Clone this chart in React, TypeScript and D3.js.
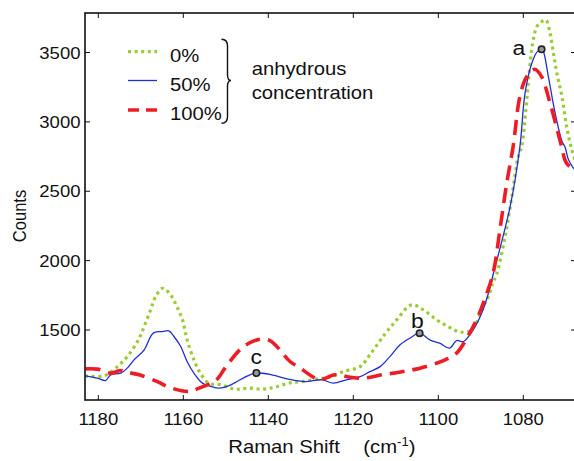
import React from "react";
import * as d3 from "d3";

// ---- data (Raman shift cm^-1, counts) ----
const xTicks = [1180, 1160, 1140, 1120, 1100, 1080];
const yTicks = [1500, 2000, 2500, 3000, 3500];

const series0X = [1183.1, 1178.6, 1175.5, 1173.2, 1170.8, 1169.2, 1167.7, 1166.5, 1164.8, 1163.0, 1161.5, 1160.2, 1159.1, 1157.5, 1156.0, 1154.0, 1151.0, 1147.9, 1144.7, 1141.2, 1138.4, 1135.3, 1132.1, 1128.2, 1125.5, 1122.4, 1118.4, 1116.1, 1113.0, 1109.8, 1106.3, 1103.5, 1100.4, 1097.7, 1095.3, 1092.9, 1091.3, 1089.8, 1088.2, 1087.2, 1086.3, 1084.3, 1082.7, 1081.2, 1080.4, 1079.4, 1078.7, 1077.8, 1076.8, 1075.8, 1074.7, 1073.7, 1072.9, 1072.1, 1070.9, 1069.8, 1068.6, 1067.6];
const series0Y = [1170, 1170, 1236, 1308, 1416, 1525, 1645, 1741, 1801, 1753, 1668, 1573, 1429, 1285, 1189, 1117, 1105, 1074, 1081, 1074, 1088, 1117, 1128, 1148, 1160, 1200, 1236, 1321, 1453, 1573, 1681, 1645, 1573, 1525, 1489, 1489, 1537, 1645, 1741, 1837, 1900, 2172, 2461, 2749, 2821, 3086, 3326, 3566, 3686, 3720, 3734, 3638, 3494, 3350, 3181, 2965, 2800, 2700];

const series50X = [1183.0, 1180.2, 1178.3, 1177.1, 1174.7, 1173.2, 1171.6, 1169.2, 1167.7, 1166.9, 1164.9, 1163.4, 1162.2, 1160.6, 1159.1, 1157.5, 1155.5, 1153.9, 1151.8, 1150.2, 1147.8, 1145.5, 1143.1, 1139.2, 1135.3, 1131.4, 1127.4, 1124.7, 1121.6, 1118.4, 1116.1, 1113.7, 1111.4, 1109.0, 1106.7, 1104.4, 1102.0, 1099.7, 1097.3, 1095.7, 1094.1, 1091.8, 1089.8, 1088.2, 1087.1, 1083.1, 1080.8, 1079.6, 1078.0, 1076.7, 1075.7, 1075.3, 1074.1, 1072.5, 1070.9, 1070.2, 1069.4, 1068.3, 1067.6];
const series50Y = [1170, 1153, 1136, 1177, 1189, 1225, 1285, 1357, 1453, 1481, 1489, 1494, 1453, 1381, 1273, 1189, 1117, 1097, 1081, 1088, 1121, 1160, 1189, 1177, 1146, 1128, 1141, 1117, 1141, 1164, 1200, 1236, 1308, 1393, 1441, 1477, 1429, 1405, 1370, 1424, 1417, 1501, 1621, 1765, 1900, 2389, 2821, 3206, 3422, 3506, 3523, 3510, 3326, 3062, 2860, 2820, 2730, 2670, 2650];

const series100X = [1183.0, 1180.2, 1177.1, 1174.7, 1172.8, 1170.4, 1166.1, 1163.4, 1158.7, 1156.3, 1152.8, 1151.8, 1150.2, 1146.7, 1144.3, 1141.6, 1139.6, 1138.0, 1134.9, 1133.0, 1129.0, 1127.8, 1124.3, 1120.8, 1117.6, 1113.3, 1110.6, 1107.4, 1104.3, 1100.4, 1098.4, 1095.7, 1093.3, 1091.0, 1089.0, 1087.1, 1085.4, 1083.9, 1082.4, 1080.8, 1079.2, 1077.3, 1075.7, 1073.7, 1071.8, 1070.9, 1070.2, 1069.5, 1068.1, 1067.6];
const series100Y = [1220, 1218, 1189, 1208, 1193, 1177, 1128, 1088, 1057, 1081, 1128, 1153, 1225, 1357, 1409, 1434, 1424, 1381, 1273, 1236, 1153, 1141, 1177, 1160, 1153, 1177, 1189, 1205, 1225, 1261, 1285, 1333, 1441, 1573, 1729, 1909, 2245, 2558, 2821, 3182, 3326, 3379, 3326, 3134, 2918, 2812, 2725, 2690, 2655, 2650];

const legendLabels = ["0%", "50%", "100%"];
const markerLabels = ["a", "b", "c"];
const markerX = [1075.7, 1104.4, 1142.8];
const markerY = [3523, 1477, 1190];

const FONT = "'Liberation Sans', Arial, Helvetica, sans-serif";
const SX = 1.09;

const L = 85, T = 13, R = 576, B = 400;

const x = d3.scaleLinear().domain([1183.13, 1067.6]).range([L, R]);
const y = d3.scaleLinear().domain([995.5, 3784.7]).range([B, T]);

const zip = (xs: number[], ys: number[]) => xs.map((v, i) => [v, ys[i]] as [number, number]);
const line = d3
  .line<[number, number]>()
  .x((d) => x(d[0]))
  .y((d) => y(d[1]))
  .curve(d3.curveCatmullRom.alpha(0.5));

const styles = [
  { color: "#99cc33", width: 3.2, dash: "3,3.6" },
  { color: "#1f2fd6", width: 1.3, dash: undefined as string | undefined },
  { color: "#ee1c24", width: 3.6, dash: "15,8" },
];

function ST(props: { x: number; y: number; size: number; anchor?: string; children: React.ReactNode; rotate?: number }) {
  const { x: px, y: py, size, anchor = "start", children, rotate } = props;
  return (
    <g transform={`translate(${px},${py}) scale(${SX},1)${rotate ? ` rotate(${rotate})` : ""}`}>
      <text textAnchor={anchor as any} fontSize={size} fontFamily={FONT} fill="#111">
        {children}
      </text>
    </g>
  );
}

export default function App() {
  const data = [zip(series0X, series0Y), zip(series50X, series50Y), zip(series100X, series100Y)];
  const legendLineY = [51.7, 80.5, 110];
  const legendTextY = [61.5, 91, 120];
  const labelOffsets = [
    [-29, 6],
    [-8.5, -5],
    [-6, -9.5],
  ];
  return (
    <svg width={574} height={461} style={{ position: "absolute", left: 0, top: 0, background: "#fff" }}>
      <defs>
        <clipPath id="plotclip">
          <rect x={L} y={T} width={R - L} height={B - T} />
        </clipPath>
      </defs>
      <rect x={0} y={0} width={574} height={461} fill="#fff" />
      <g clipPath="url(#plotclip)">
        {data.map((d, i) => (
          <path
            key={i}
            d={line(d) || ""}
            fill="none"
            stroke={styles[i].color}
            strokeWidth={styles[i].width}
            strokeDasharray={styles[i].dash}
            strokeLinejoin="round"
          />
        ))}
      </g>
      {/* markers */}
      {markerLabels.map((m, i) => (
        <g key={m}>
          <circle cx={x(markerX[i])} cy={y(markerY[i])} r={3.2} fill="#9a9a9a" stroke="#222" strokeWidth={1.6} />
          <ST x={x(markerX[i]) + labelOffsets[i][0]} y={y(markerY[i]) + labelOffsets[i][1]} size={21}>
            {m}
          </ST>
        </g>
      ))}
      {/* frame */}
      <rect x={L} y={T} width={R - L} height={B - T} fill="none" stroke="#111" strokeWidth={1.6} />
      {/* ticks */}
      {xTicks.map((t) => (
        <g key={"x" + t}>
          <line x1={x(t)} x2={x(t)} y1={B} y2={B - 5} stroke="#111" strokeWidth={1} />
          <line x1={x(t)} x2={x(t)} y1={T} y2={T + 5} stroke="#111" strokeWidth={1} />
          <ST x={x(t)} y={425} size={17} anchor="middle">
            {t}
          </ST>
        </g>
      ))}
      {yTicks.map((t) => (
        <g key={"y" + t}>
          <line x1={L} x2={L + 5} y1={y(t)} y2={y(t)} stroke="#111" strokeWidth={1} />
          <line x1={R} x2={R - 5} y1={y(t)} y2={y(t)} stroke="#111" strokeWidth={1} />
          <ST x={80.5} y={y(t) + 6.2} size={17} anchor="end">
            {t}
          </ST>
        </g>
      ))}
      {/* axis labels */}
      <ST x={25.5} y={216} size={16.5} anchor="middle" rotate={-90}>
        Counts
      </ST>
      <ST x={228.3} y={453.3} size={18.6}>
        Raman Shift
      </ST>
      <g transform={`translate(363.3,453.3) scale(${SX},1)`}>
        <text fontSize={18.6} fontFamily={FONT} fill="#111">
          (cm
          <tspan fontSize={12} dy={-7}>
            -1
          </tspan>
          <tspan dy={7}>)</tspan>
        </text>
      </g>
      {/* legend */}
      {legendLabels.map((lab, i) => (
        <g key={lab}>
          <line
            x1={128}
            x2={157}
            y1={legendLineY[i]}
            y2={legendLineY[i]}
            stroke={styles[i].color}
            strokeWidth={styles[i].width}
            strokeDasharray={i === 2 ? "11,7" : styles[i].dash}
          />
          <ST x={170} y={legendTextY[i]} size={18.6}>
            {lab}
          </ST>
        </g>
      ))}
      <path
        d="M221.5,39.3 Q227.5,39.3 227.5,46 L227.5,74.5 Q227.5,80.5 231,80.5 Q227.5,80.5 227.5,86.5 L227.5,116.5 Q227.5,123.3 221.5,123.3"
        fill="none"
        stroke="#111"
        strokeWidth={1.4}
      />
      <ST x={251.7} y={75} size={18.6}>
        anhydrous
      </ST>
      <ST x={251.7} y={99.3} size={18.6}>
        concentration
      </ST>
    </svg>
  );
}
